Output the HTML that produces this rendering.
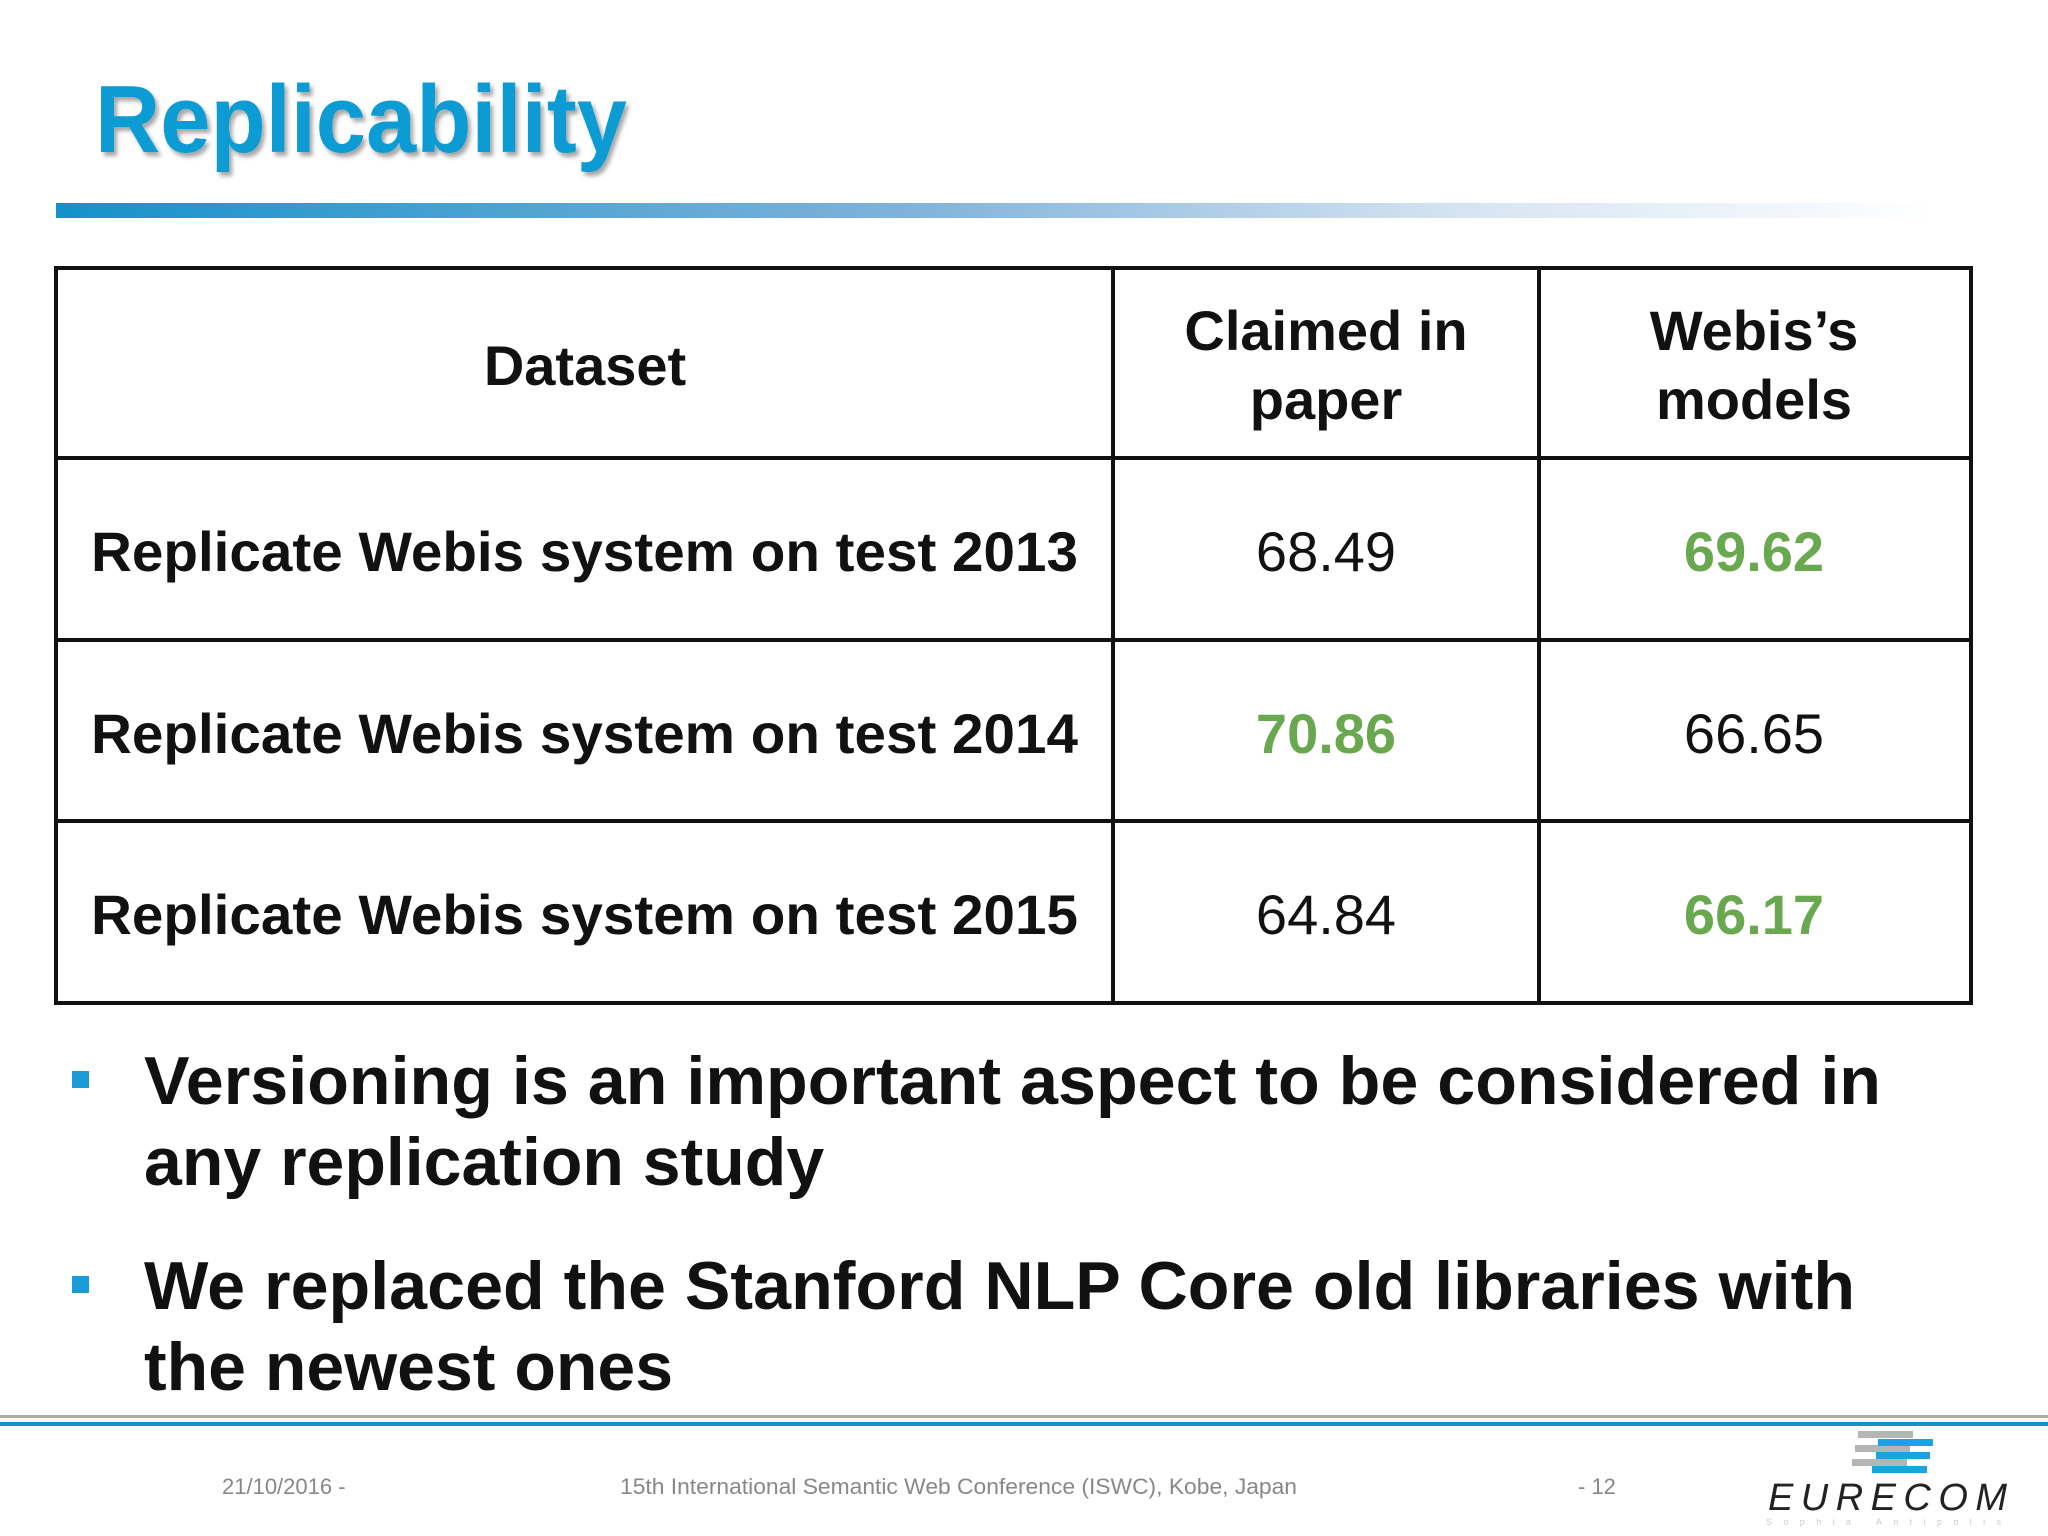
<!DOCTYPE html>
<html><head><meta charset="utf-8"><style>
html,body{margin:0;padding:0;background:#fff;}
svg{display:block;font-family:"Liberation Sans",Arial,sans-serif;}
</style></head><body>
<svg width="2048" height="1536" viewBox="0 0 2048 1536">
<defs>
<linearGradient id="tg" x1="0" x2="1" y1="0" y2="0">
<stop offset="0" stop-color="#1592c9"/><stop offset="0.45" stop-color="#7fb2da"/><stop offset="0.75" stop-color="#d6e4f2"/><stop offset="1" stop-color="#ffffff"/>
</linearGradient>
<filter id="sh" x="-5%" y="-5%" width="110%" height="120%"><feDropShadow dx="3" dy="4" stdDeviation="2" flood-color="#000" flood-opacity="0.35"/></filter>
</defs>
<text x="95" y="152" font-size="96" font-weight="bold" fill="#0d9bd3" textLength="532" lengthAdjust="spacingAndGlyphs" filter="url(#sh)">Replicability</text>
<rect x="56" y="203" width="1880" height="15" fill="url(#tg)"/>

<g stroke="#111" stroke-width="4" fill="none">
<rect x="56" y="268" width="1915" height="735"/>
<line x1="1113" y1="268" x2="1113" y2="1003"/>
<line x1="1539" y1="268" x2="1539" y2="1003"/>
<line x1="56" y1="458" x2="1971" y2="458"/>
<line x1="56" y1="640" x2="1971" y2="640"/>
<line x1="56" y1="821" x2="1971" y2="821"/>
</g>
<g font-size="56" font-weight="bold" fill="#111" text-anchor="middle">
<text x="585" y="385">Dataset</text>
<text x="1326" y="350">Claimed in</text>
<text x="1326" y="419">paper</text>
<text x="1754" y="350">Webis’s</text>
<text x="1754" y="419">models</text>
</g>
<g font-size="56" font-weight="bold" fill="#111">
<text x="91" y="571" textLength="987" lengthAdjust="spacingAndGlyphs">Replicate Webis system on test 2013</text>
<text x="91" y="753" textLength="987" lengthAdjust="spacingAndGlyphs">Replicate Webis system on test 2014</text>
<text x="91" y="934" textLength="987" lengthAdjust="spacingAndGlyphs">Replicate Webis system on test 2015</text>
</g>
<g font-size="56" text-anchor="middle">
<text x="1326" y="571" fill="#111">68.49</text>
<text x="1754" y="571" fill="#6aa84f" font-weight="bold">69.62</text>
<text x="1326" y="753" fill="#6aa84f" font-weight="bold">70.86</text>
<text x="1754" y="753" fill="#111">66.65</text>
<text x="1326" y="934" fill="#111">64.84</text>
<text x="1754" y="934" fill="#6aa84f" font-weight="bold">66.17</text>
</g>

<rect x="72" y="1071" width="17" height="17" fill="#1a9ad6"/>
<rect x="72" y="1276" width="17" height="17" fill="#1a9ad6"/>
<g font-size="68" font-weight="bold" fill="#111">
<text x="144" y="1104" textLength="1737" lengthAdjust="spacingAndGlyphs">Versioning is an important aspect to be considered in</text>
<text x="144" y="1185">any replication study</text>
<text x="144" y="1309" textLength="1711" lengthAdjust="spacingAndGlyphs">We replaced the Stanford NLP Core old libraries with</text>
<text x="144" y="1390">the newest ones</text>
</g>

<rect x="0" y="1415" width="2048" height="3" fill="#aaa"/>
<rect x="0" y="1422" width="2048" height="4" fill="#1592c9"/>
<g font-size="22" fill="#888">
<text x="222" y="1494">21/10/2016 -</text>
<text x="620" y="1494" textLength="677" lengthAdjust="spacingAndGlyphs">15th International Semantic Web Conference (ISWC), Kobe, Japan</text>
<text x="1578" y="1494">- 12</text>
</g>
<g>
<rect x="1858" y="1431" width="55" height="7" fill="#b5b5b5"/>
<rect x="1855" y="1445" width="55" height="7" fill="#b5b5b5"/>
<rect x="1852" y="1459" width="55" height="7" fill="#b5b5b5"/>
<rect x="1878" y="1439" width="55" height="7" fill="#1aa3e0"/>
<rect x="1876" y="1452" width="54" height="7" fill="#1aa3e0"/>
<rect x="1872" y="1466" width="55" height="7" fill="#1aa3e0"/>
<text x="1768" y="1510" font-size="38" font-style="italic" fill="#222" textLength="239" lengthAdjust="spacing">EURECOM</text>
<text x="1766" y="1525" font-size="9" fill="#ccc" textLength="235" lengthAdjust="spacing">Sophia Antipolis</text>
</g>
</svg>
</body></html>
